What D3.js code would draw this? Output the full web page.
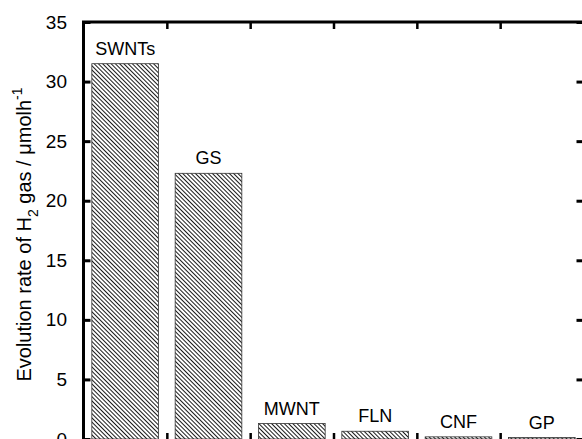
<!DOCTYPE html>
<html><head><meta charset="utf-8">
<script src="https://cdn.jsdelivr.net/npm/d3@7"></script>
<style>
html,body{margin:0;padding:0;background:#fff;}
text{font-family:"Liberation Sans",Arial,sans-serif;fill:#000;}
</style></head>
<body><svg id="c" width="582" height="439"></svg>
<script>
const categories = ["SWNTs","GS","MWNT","FLN","CNF","GP"];
const values = [31.5, 22.3, 1.3, 0.65, 0.18, 0.12];
const yTicks = [0,5,10,15,20,25,30,35];

const W = 582, H = 439;
const mLeft = 83.5, mRight = 583.5, mTop = 22, mBottom = 439;
const svg = d3.select("#c");

const x = d3.scaleBand().domain(categories).range([mLeft, mRight]).paddingInner(0.2).paddingOuter(0.1);
const xb = d3.scaleLinear().domain([0, categories.length]).range([mLeft, mRight]);
const y = d3.scaleLinear().domain([0, 35]).range([mBottom, mTop]);

const defs = svg.append("defs");
const pat = defs.append("pattern").attr("id","hatch").attr("patternUnits","userSpaceOnUse")
  .attr("width",3).attr("height",3).attr("patternTransform","rotate(-45)");
pat.append("rect").attr("width",3).attr("height",3).attr("fill","#fff");
pat.append("line").attr("x1",0.5).attr("y1",0).attr("x2",0.5).attr("y2",3)
  .attr("stroke","#000").attr("stroke-width",0.9);

// bars
svg.selectAll("rect.bar").data(categories).enter().append("rect").attr("class","bar")
  .attr("x", d => x(d)).attr("width", x.bandwidth())
  .attr("y", (d,i) => y(values[i])).attr("height", (d,i) => y(0) - y(values[i]))
  .attr("fill","url(#hatch)").attr("stroke","#333").attr("stroke-width",0.8);

// bar labels
svg.selectAll("text.lab").data(categories).enter().append("text").attr("class","lab")
  .attr("x", d => x(d) + x.bandwidth()/2)
  .attr("y", (d,i) => y(values[i]) - 9)
  .attr("text-anchor","middle").attr("font-size",18).text(d => d);

// frame
const frame = svg.append("g").attr("stroke","#000").attr("stroke-width",3).attr("fill","none");
frame.append("line").attr("x1",mLeft).attr("x2",mLeft).attr("y1",mTop).attr("y2",H+5);
frame.append("line").attr("x1",mLeft-1.5).attr("x2",mRight+2).attr("y1",mTop).attr("y2",mTop);
frame.append("line").attr("x1",mRight+1).attr("x2",mRight+1).attr("y1",mTop).attr("y2",H+5);

// left axis
const yAxis = d3.axisLeft(y).tickValues(yTicks).tickSize(-7).tickPadding(16.5).tickFormat(d3.format("d"));
const gy = svg.append("g").attr("transform",`translate(${mLeft},0)`).call(yAxis);
gy.select(".domain").remove();
gy.selectAll(".tick line").attr("stroke-width",3);
gy.selectAll(".tick text").attr("font-size",19).style("font-family","Liberation Sans, Arial, sans-serif");

// right axis
const yAxisR = d3.axisRight(y).tickValues(yTicks).tickSize(-7).tickFormat("");
const gyr = svg.append("g").attr("transform",`translate(${mRight},0)`).call(yAxisR);
gyr.select(".domain").remove();
gyr.selectAll(".tick line").attr("stroke-width",3);

// top & bottom boundary ticks
const bounds = d3.range(1, categories.length);
const gt = svg.append("g").attr("transform",`translate(0,${mTop})`)
  .call(d3.axisTop(xb).tickValues(bounds).tickSize(-7).tickFormat(""));
gt.select(".domain").remove();
gt.selectAll(".tick line").attr("stroke-width",2.5);
const gb = svg.append("g").attr("transform",`translate(0,${mBottom})`)
  .call(d3.axisBottom(xb).tickValues(bounds).tickSize(-6).tickFormat(""));
gb.select(".domain").remove();
gb.selectAll(".tick line").attr("stroke-width",2.5);

// y label
const yl = svg.append("text").attr("transform",`translate(31,${(mTop+mBottom)/2 + 4}) rotate(-90)`)
  .attr("text-anchor","middle").attr("font-size",20);
yl.append("tspan").text("Evolution rate of H");
yl.append("tspan").attr("font-size",14).attr("dy",7).text("2");
yl.append("tspan").attr("dy",-7).text(" gas / μmolh");
yl.append("tspan").attr("font-size",14).attr("dy",-9).text("-1");
</script></body></html>
